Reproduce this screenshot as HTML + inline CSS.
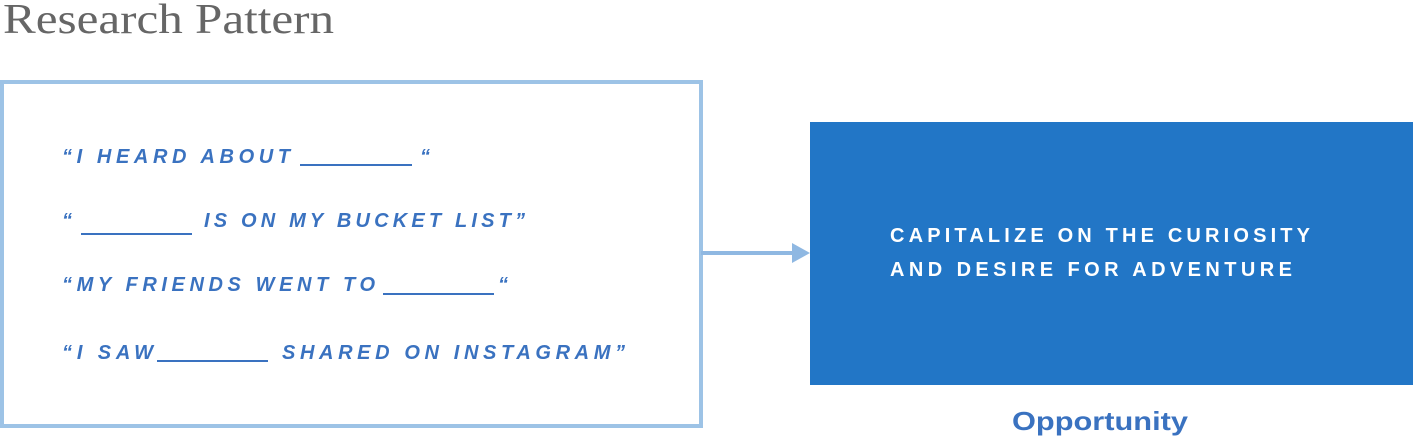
<!DOCTYPE html>
<html><head><meta charset="utf-8"><style>
html,body{margin:0;padding:0;background:#fff;width:1413px;height:438px;overflow:hidden}
svg{display:block}
.q{font-family:"Liberation Sans",sans-serif;font-style:italic;font-weight:bold;font-size:20px;fill:#3a72c0}
.w{font-family:"Liberation Sans",sans-serif;font-weight:bold;font-size:20px;fill:#fff}
</style></head><body>
<svg width="1413" height="438" viewBox="0 0 1413 438" xmlns="http://www.w3.org/2000/svg">
<text x="3" y="33" font-family="Liberation Serif,serif" font-size="42" fill="#666" textLength="331" lengthAdjust="spacingAndGlyphs">Research Pattern</text>
<rect x="2" y="82" width="699" height="344" fill="none" stroke="#9dc3e6" stroke-width="4"/>
<g class="q">
<text x="62" y="163" textLength="228" lengthAdjust="spacing">“I HEARD ABOUT</text>
<text x="420" y="163">“</text>
<text x="62" y="227">“</text>
<text x="204" y="227" textLength="321" lengthAdjust="spacing">IS ON MY BUCKET LIST”</text>
<text x="62" y="291" textLength="313" lengthAdjust="spacing">“MY FRIENDS WENT TO</text>
<text x="498" y="291">“</text>
<text x="62" y="359" textLength="91" lengthAdjust="spacing">“I SAW</text>
<text x="282" y="359" textLength="343" lengthAdjust="spacing">SHARED ON INSTAGRAM”</text>
</g>
<g stroke="#3a72c0" stroke-width="2">
<line x1="300" y1="165" x2="412" y2="165"/>
<line x1="81" y1="234" x2="192" y2="234"/>
<line x1="383" y1="294" x2="494" y2="294"/>
<line x1="157" y1="361" x2="268" y2="361"/>
</g>
<line x1="701" y1="253" x2="796" y2="253" stroke="#8fb8e2" stroke-width="4"/>
<polygon points="792,243 810,253 792,263" fill="#8fb8e2"/>
<rect x="810" y="122" width="603" height="263" fill="#2276c6"/>
<text class="w" x="890" y="242" textLength="420" lengthAdjust="spacing">CAPITALIZE ON THE CURIOSITY</text>
<text class="w" x="890" y="276" textLength="402" lengthAdjust="spacing">AND DESIRE FOR ADVENTURE</text>
<text x="1012" y="430" font-family="Liberation Sans,sans-serif" font-weight="bold" font-size="26" fill="#3a72c0" textLength="176" lengthAdjust="spacingAndGlyphs">Opportunity</text>
</svg>
</body></html>
